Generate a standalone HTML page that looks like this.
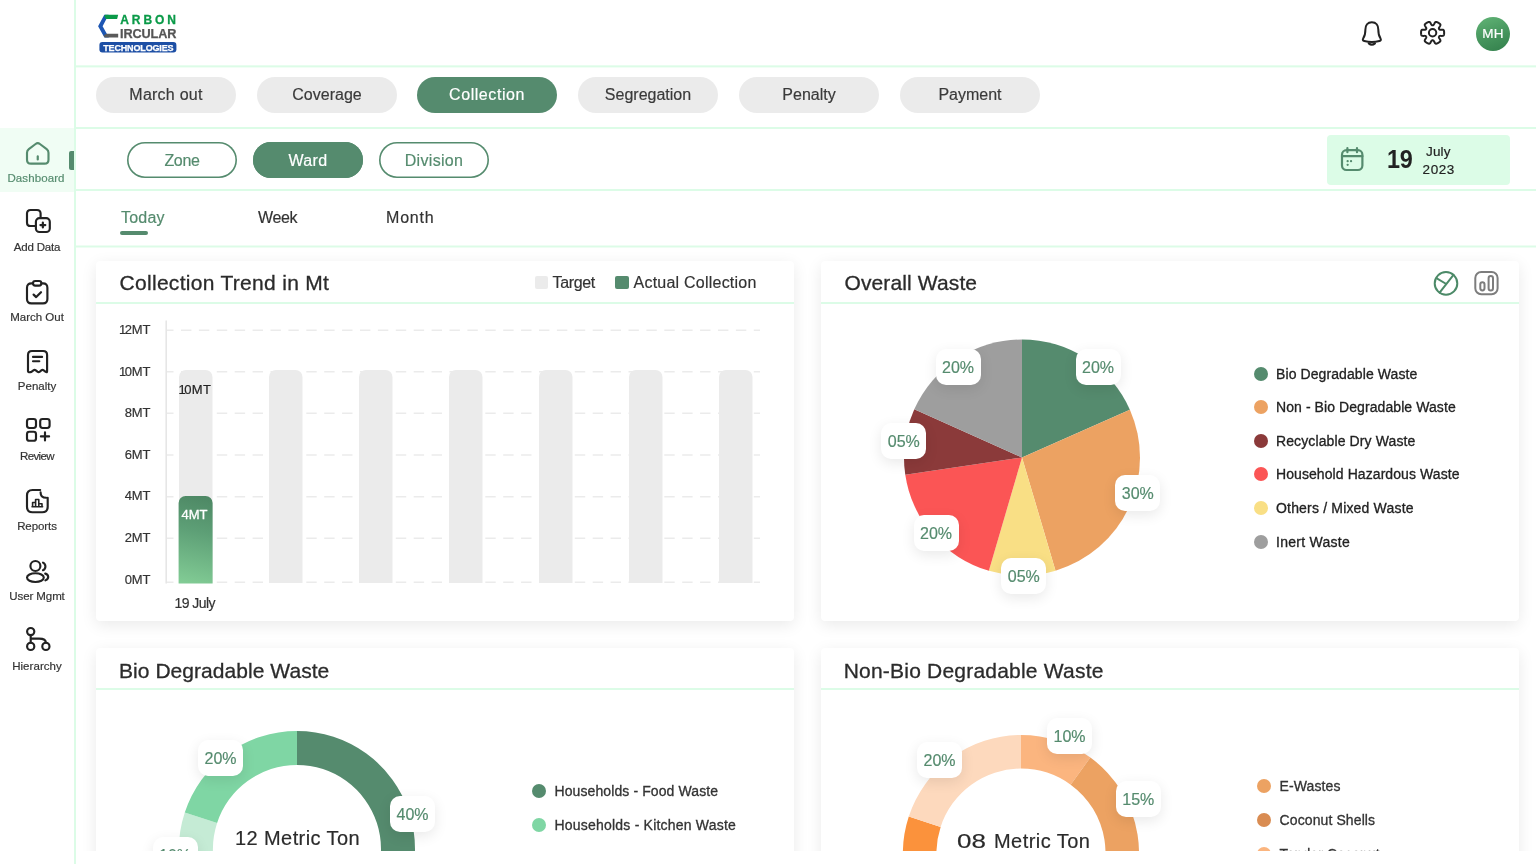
<!DOCTYPE html>
<html lang="en">
<head>
<meta charset="utf-8">
<title>Carbon Circular Technologies - Dashboard</title>
<style>
*{box-sizing:border-box;margin:0;padding:0}
html,body{width:1536px;height:864px;overflow:hidden;background:#fff}
body{font-family:"Liberation Sans",sans-serif;color:#2b2b2b;position:relative;-webkit-text-stroke-width:.18px}
.abs{position:absolute}
.t{position:absolute;white-space:nowrap;line-height:1}
/* sidebar */
#side{position:absolute;left:0;top:0;width:76px;height:864px;border-right:2px solid #dcfce7;background:#fff}
#sideactive{position:absolute;left:0;top:128px;width:74px;height:64px;background:#f0fdf4}
#sideind{position:absolute;left:69px;top:151px;width:5px;height:19px;background:#558b6e;border-radius:2px 0 0 2px}
.nl{position:absolute;left:0;width:74px;text-align:center;font-size:11.5px;line-height:14px;color:#333;white-space:nowrap}
.ic{position:absolute;overflow:visible}
.ic *{fill:none;stroke:#222;stroke-width:2.15;stroke-linecap:round;stroke-linejoin:round}
.ic.g *{stroke:#558b6e}
/* horizontal lines */
.hl{position:absolute;left:76px;right:0;height:2px;background:#dcfce7}
/* pills */
.pill{position:absolute;top:77px;width:140px;height:36px;border-radius:18px;background:#ebebeb;color:#3a3a3a;font-size:16px;line-height:36px;text-align:center;white-space:nowrap}
.pill.on{background:#558b6e;color:#fff}
.sp{position:absolute;top:142px;width:110px;height:36px;border-radius:18px;box-shadow:inset 0 0 0 1.6px #558b6e;color:#558b6e;font-size:16px;line-height:38px;text-align:center;background:#fff;white-space:nowrap}
.sp.on{background:#558b6e;color:#fff}
.pt{position:absolute;top:208px;font-size:16px;line-height:20px;color:#333;white-space:nowrap}
/* content */
#content{position:absolute;left:76px;top:247px;width:1460px;height:604px;overflow:hidden}
#inner{position:absolute;left:-76px;top:-247px;width:1536px;height:1200px}
.card{position:absolute;width:698px;height:360px;background:#fff;box-shadow:0 4px 16px rgba(0,0,0,.085);border-radius:4px}
.h2{position:absolute;-webkit-text-stroke-width:.3px;font-weight:400;font-size:21px;line-height:24px;color:#2b2b2b;white-space:nowrap}
.ln{position:absolute;height:2px;background:#dcfce7;width:698px}
.yl{position:absolute;width:60px;text-align:right;font-size:13px;line-height:16px;color:#333;white-space:nowrap;letter-spacing:-.1px}
.n1{letter-spacing:-1.5px}
.lg{position:absolute;font-size:14px;line-height:16px;color:#222;white-space:nowrap;-webkit-text-stroke:.3px #222}
.dot{position:absolute;width:14px;height:14px;border-radius:50%}
.pl{position:absolute;width:45px;height:36px;margin-left:-1px;border-radius:10px;background:#fff;box-shadow:0 4px 14px rgba(0,0,0,.09);color:#558b6e;font-size:16px;line-height:37px;text-align:center;white-space:nowrap}
</style>
</head>
<body>
<div id="side">
  <div id="sideactive"></div>
  <div id="sideind"></div>

  <!-- Dashboard -->
  <svg class="ic g" style="left:25.9px;top:142px" width="23.5" height="22.7" viewBox="0 0 23.5 22.7">
    <path d="M9.600 2 2.800 7.100Q1 8.450 1 10.700v7q0 4 4 4h13.500q4 0 4-4v-7q0-2.250-1.800-3.600L13.900 2q-2.150-1.600-4.300 0Z"/>
    <path d="M11.75 14.4v3" style="stroke-width:2.2"/>
  </svg>
  <div class="nl" id="n1" style="letter-spacing:0.11px;top:171px;color:#558b6e;padding-right:2px">Dashboard</div>

  <!-- Add Data -->
  <svg class="ic" style="left:25.9px;top:209.2px" width="24.8" height="24" viewBox="0 0 24.8 24">
    <path d="M8.9 17H4.6Q1 17 1 13.4V4.6Q1 1 4.6 1h6.4q3.6 0 3.6 3.6v3.5"/>
    <rect x="9.9" y="9.1" width="13.9" height="13.9" rx="3.6"/>
    <path d="M16.85 13.6v4.9M14.4 16.05h4.9" style="stroke-width:2.2"/>
  </svg>
  <div class="nl" id="n2" style="letter-spacing:-0.19px;top:240px">Add Data</div>

  <!-- March Out -->
  <svg class="ic" style="left:25.9px;top:280px" width="22.4" height="24.4" viewBox="0 0 22.4 24.4">
    <path d="M7 3.4H5.4Q1 3.4 1 7.8v11.2q0 4.4 4.4 4.4H17q4.4 0 4.400-4.400V7.800q0-4.400-4.400-4.400h-1.600"/>
    <rect x="7" y="1" width="8.4" height="4.6" rx="2.3"/>
    <path d="M7.6 14.6l2.600 2.500 4.800-4.900" style="stroke-width:2.2"/>
  </svg>
  <div class="nl" id="n3" style="top:309.500px">March Out</div>

  <!-- Penalty -->
  <svg class="ic" style="left:27px;top:350px" width="21.1" height="23.8" viewBox="0 0 21.1 23.8">
    <path d="M1 21.200V5Q1 1 5 1h11.100q4 0 4 4v16.200q0 1.600-1.400.7l-2-1.500q-1.200-.9-2.400 0l-1.500 1.300q-1.200.9-2.400 0l-1.600-1.300q-1.200-.9-2.400 0l-2 1.500Q1 22.800 1 21.200Z"/>
    <path d="M6 6.900h9.100M6 11.300h6.300"/>
  </svg>
  <div class="nl" id="n4" style="top:379px">Penalty</div>

  <!-- Review -->
  <svg class="ic" style="left:25.6px;top:417.6px" width="24.6" height="23.8" viewBox="0 0 24.6 23.8">
    <rect x="1" y="1" width="9" height="9" rx="2.400"/>
    <rect x="14.200" y="1" width="9.400" height="9" rx="2.400"/>
    <rect x="1" y="13.800" width="9" height="9" rx="2.400"/>
    <path d="M19 14.300v8.200M14.900 18.400h8.200"/>
  </svg>
  <div class="nl" id="n5" style="letter-spacing:-0.62px;top:449px">Review</div>

  <!-- Reports -->
  <svg class="ic" style="left:25.9px;top:489.200px" width="22.700" height="24.300" viewBox="0 0 22.700 24.300">
    <path d="M14.200 1H6.500Q1 1 1 6.500v11.300q0 5.500 5.500 5.500h9.700q5.500 0 5.500-5.500V8.800"/>
    <path d="M14.600 3.400q0 5.400 5.600 5.400"/>
    <path d="M6 17.700h10.600M6.600 17.700v-4.200h3v4.200M9.600 17.700v-7.200h3.200v7.200M12.800 17.700v-3h3.200v3" style="stroke-width:1.600"/>
  </svg>
  <div class="nl" id="n6" style="letter-spacing:-0.08px;top:518.500px">Reports</div>

  <!-- User Mgmt -->
  <svg class="ic" style="left:25.900px;top:559.600px" width="23.500" height="23" viewBox="0 0 23.500 23">
    <circle cx="9.400" cy="6" r="5"/>
    <ellipse cx="9.400" cy="17.600" rx="8.400" ry="4.400"/>
    <path d="M17 2.600a4.200 4.200 0 0 1 0 7.600"/>
    <path d="M19.200 13.600c3.400 1 4.500 4.800.2 6.800"/>
  </svg>
  <div class="nl" id="n7" style="letter-spacing:-0.08px;top:588.500px">User Mgmt</div>

  <!-- Hierarchy -->
  <svg class="ic" style="left:25.900px;top:627.300px" width="24.600" height="23.700" viewBox="0 0 24.600 23.700">
    <circle cx="4.700" cy="4.600" r="3.600"/>
    <circle cx="4.700" cy="19.400" r="3.600"/>
    <circle cx="19.900" cy="19.400" r="3.600"/>
    <path d="M4.700 8.200v7.600M4.700 11.600h8.400q6.800 0 6.800 4.200"/>
  </svg>
  <div class="nl" id="n8" style="letter-spacing:0.06px;top:658.500px">Hierarchy</div>
</div>
<!-- logo -->
<svg class="abs" style="left:98px;top:14px" width="80" height="40" viewBox="98 14 80 40">
  <path fill="#1d56b3" d="M104.300 14.800h4.300l-6 11.400 6.300 11.400h-4.500l-6.300-11.400Z"/>
  <path fill="#0a9a48" d="M104.900 14.800h13.300l-1.100 4.300h-11.100l-1.600-2.600Z"/>
  <path fill="#5a5a5a" d="M106.300 33.700h11.900v3.900h-13.400l-1.200-2.100Z"/>
  <rect x="99.400" y="42" width="77" height="10.600" rx="3" fill="#1d4fa5"/>
</svg>
<div class="t" id="lg1" style="left:120.200px;top:14.300px;font-size:12px;font-weight:700;color:#0a9a48;letter-spacing:2.950px;-webkit-text-stroke:.3px #0a9a48">ARBON</div>
<div class="t" id="lg2" style="left:120px;top:28px;font-size:12.700px;font-weight:700;color:#555;letter-spacing:-.1px;-webkit-text-stroke:.25px #555">IRCULAR</div>
<div class="t" id="lg3" style="left:103.200px;top:43.500px;font-size:9px;font-weight:700;color:#fff;letter-spacing:-.15px;-webkit-text-stroke:.25px #fff">TECHNOLOGIES</div>

<!-- bell -->
<svg class="abs" style="left:1360px;top:20px;overflow:visible" width="24" height="27" viewBox="1360 20 24 27" fill="none" stroke="#222" stroke-width="2" stroke-linecap="round" stroke-linejoin="round">
  <path d="M1371.850 22.300C1367.500 22.300 1365.400 25.500 1365.400 29.500C1365.400 33.500 1365.200 35.500 1363.300 38.200C1362.300 39.700 1362.900 40.600 1364.300 40.950C1369 42.200 1374.700 42.200 1379.400 40.950C1380.800 40.600 1381.400 39.700 1380.400 38.200C1378.500 35.500 1378.300 33.500 1378.300 29.500C1378.300 25.500 1376.200 22.300 1371.850 22.300Z"/>
  <path d="M1368.800 43.400q3.050 2.600 6.100 0" stroke-width="2.200"/>
</svg>
<!-- gear -->
<svg class="abs" style="left:1420px;top:21.200px;overflow:visible" width="25.200" height="23.600" viewBox="0 0 25.200 23.600" fill="none" stroke="#222" stroke-width="2" stroke-linejoin="round">
  <path d="M24.15 11.80L24.15 12.00L24.14 12.20L24.13 12.40L24.12 12.61L24.10 12.81L24.08 13.01L24.06 13.21L24.03 13.41L23.99 13.60L23.94 13.80L23.88 13.99L23.81 14.18L23.70 14.36L23.56 14.53L23.34 14.68L23.04 14.79L22.63 14.87L22.13 14.90L21.58 14.89L21.05 14.88L20.59 14.87L20.22 14.88L19.94 14.91L19.72 14.97L19.56 15.05L19.44 15.13L19.33 15.23L19.24 15.33L19.16 15.44L19.10 15.55L19.03 15.67L18.98 15.79L18.94 15.91L18.90 16.05L18.89 16.21L18.91 16.38L18.96 16.60L19.07 16.86L19.25 17.18L19.49 17.58L19.77 18.03L20.05 18.51L20.27 18.96L20.41 19.35L20.46 19.66L20.44 19.92L20.37 20.13L20.27 20.32L20.14 20.48L20.00 20.62L19.86 20.76L19.70 20.89L19.55 21.02L19.39 21.14L19.22 21.26L19.06 21.37L18.89 21.49L18.72 21.59L18.55 21.70L18.38 21.80L18.20 21.90L18.02 22.00L17.84 22.09L17.66 22.18L17.48 22.27L17.30 22.35L17.11 22.43L16.92 22.50L16.73 22.56L16.54 22.62L16.34 22.67L16.14 22.70L15.93 22.70L15.71 22.65L15.48 22.54L15.23 22.34L14.96 22.02L14.68 21.60L14.41 21.13L14.16 20.65L13.94 20.25L13.74 19.94L13.57 19.71L13.42 19.56L13.27 19.45L13.13 19.39L13.00 19.34L12.86 19.32L12.73 19.30L12.60 19.30L12.47 19.30L12.34 19.32L12.20 19.34L12.07 19.39L11.93 19.45L11.78 19.56L11.63 19.71L11.46 19.94L11.26 20.25L11.04 20.65L10.79 21.13L10.52 21.60L10.24 22.02L9.97 22.34L9.72 22.54L9.49 22.65L9.27 22.70L9.06 22.70L8.86 22.67L8.66 22.62L8.47 22.56L8.28 22.50L8.09 22.43L7.90 22.35L7.72 22.27L7.54 22.18L7.36 22.09L7.18 22.00L7.00 21.90L6.83 21.80L6.65 21.70L6.48 21.59L6.31 21.49L6.14 21.37L5.98 21.26L5.81 21.14L5.65 21.02L5.50 20.89L5.34 20.76L5.20 20.62L5.06 20.48L4.93 20.32L4.83 20.13L4.76 19.92L4.74 19.66L4.79 19.35L4.93 18.96L5.15 18.51L5.43 18.03L5.71 17.58L5.95 17.18L6.13 16.86L6.24 16.60L6.29 16.38L6.31 16.21L6.30 16.05L6.26 15.91L6.22 15.79L6.17 15.67L6.10 15.55L6.04 15.44L5.96 15.33L5.87 15.23L5.76 15.13L5.64 15.05L5.48 14.97L5.26 14.91L4.98 14.88L4.61 14.87L4.15 14.88L3.62 14.89L3.07 14.90L2.57 14.87L2.16 14.79L1.86 14.68L1.64 14.53L1.50 14.36L1.39 14.18L1.32 13.99L1.26 13.80L1.21 13.60L1.17 13.41L1.14 13.21L1.12 13.01L1.10 12.81L1.08 12.61L1.07 12.40L1.06 12.20L1.05 12.00L1.05 11.80L1.05 11.60L1.06 11.40L1.07 11.20L1.08 10.99L1.10 10.79L1.12 10.59L1.14 10.39L1.17 10.19L1.21 10.00L1.26 9.80L1.32 9.61L1.39 9.42L1.50 9.24L1.64 9.07L1.86 8.92L2.16 8.81L2.57 8.73L3.07 8.70L3.62 8.71L4.15 8.72L4.61 8.73L4.98 8.72L5.26 8.69L5.48 8.63L5.64 8.55L5.76 8.47L5.87 8.37L5.96 8.27L6.04 8.16L6.10 8.05L6.17 7.93L6.22 7.81L6.26 7.69L6.30 7.55L6.31 7.39L6.29 7.22L6.24 7.00L6.13 6.74L5.95 6.42L5.71 6.02L5.43 5.57L5.15 5.09L4.93 4.64L4.79 4.25L4.74 3.94L4.76 3.68L4.83 3.47L4.93 3.28L5.06 3.12L5.20 2.98L5.34 2.84L5.50 2.71L5.65 2.58L5.81 2.46L5.98 2.34L6.14 2.23L6.31 2.11L6.48 2.01L6.65 1.90L6.82 1.80L7.00 1.70L7.18 1.60L7.36 1.51L7.54 1.42L7.72 1.33L7.90 1.25L8.09 1.17L8.28 1.10L8.47 1.04L8.66 0.98L8.86 0.93L9.06 0.90L9.27 0.90L9.49 0.95L9.72 1.06L9.97 1.26L10.24 1.58L10.52 2.00L10.79 2.47L11.04 2.95L11.26 3.35L11.46 3.66L11.63 3.89L11.78 4.04L11.93 4.15L12.07 4.21L12.20 4.26L12.34 4.28L12.47 4.30L12.60 4.30L12.73 4.30L12.86 4.28L13.00 4.26L13.13 4.21L13.27 4.15L13.42 4.04L13.57 3.89L13.74 3.66L13.94 3.35L14.16 2.95L14.41 2.47L14.68 2.00L14.96 1.58L15.23 1.26L15.48 1.06L15.71 0.95L15.93 0.90L16.14 0.90L16.34 0.93L16.54 0.98L16.73 1.04L16.92 1.10L17.11 1.17L17.30 1.25L17.48 1.33L17.66 1.42L17.84 1.51L18.02 1.60L18.20 1.70L18.38 1.80L18.55 1.90L18.72 2.01L18.89 2.11L19.06 2.23L19.22 2.34L19.39 2.46L19.55 2.58L19.70 2.71L19.86 2.84L20.00 2.98L20.14 3.12L20.27 3.28L20.37 3.47L20.44 3.68L20.46 3.94L20.41 4.25L20.27 4.64L20.05 5.09L19.77 5.57L19.49 6.02L19.25 6.42L19.07 6.74L18.96 7.00L18.91 7.22L18.89 7.39L18.90 7.55L18.94 7.69L18.98 7.81L19.03 7.93L19.10 8.05L19.16 8.16L19.24 8.27L19.33 8.37L19.44 8.47L19.56 8.55L19.72 8.63L19.94 8.69L20.22 8.72L20.59 8.73L21.05 8.72L21.58 8.71L22.13 8.70L22.63 8.73L23.04 8.81L23.34 8.92L23.56 9.07L23.70 9.24L23.81 9.42L23.88 9.61L23.94 9.80L23.99 10.00L24.03 10.19L24.06 10.39L24.08 10.59L24.10 10.79L24.12 10.99L24.13 11.20L24.14 11.40L24.15 11.60Z"/>
  <circle cx="12.600" cy="11.800" r="3.700"/>
</svg>
<!-- avatar -->
<div class="abs" style="left:1476px;top:16.800px;width:34px;height:34px;border-radius:50%;background:linear-gradient(160deg,#62b577 0%,#4a9a61 45%,#327f4b 100%);color:#fff;font-size:13.500px;line-height:34px;text-align:center;letter-spacing:.2px">MH</div>

<div class="hl" style="top:65px;height:3px;background:linear-gradient(#e8fdef 0 33.4%,#dcfce7 33.4% 66.7%,#f1fef5 66.7%)"></div>
<div class="hl" style="top:127px"></div>
<div class="hl" style="top:189px"></div>
<div class="hl" style="top:245px;height:3px;background:linear-gradient(#eefdf3 0 33.4%,#dcfce7 33.4% 66.7%,#eefdf3 66.7%)"></div>

<div class="pill" style="left:96px"><span id="p1" style="letter-spacing:0.24px">March out</span></div>
<div class="pill" style="left:257px"><span id="p2">Coverage</span></div>
<div class="pill on" style="left:417px"><span id="p3" style="letter-spacing:0.56px">Collection</span></div>
<div class="pill" style="left:578px"><span id="p4">Segregation</span></div>
<div class="pill" style="left:739px"><span id="p5">Penalty</span></div>
<div class="pill" style="left:900px"><span id="p6">Payment</span></div>

<div class="sp" style="left:127px"><span id="s1" style="letter-spacing:-0.33px">Zone</span></div>
<div class="sp on" style="left:253px"><span id="s2" style="letter-spacing:0.38px">Ward</span></div>
<div class="sp" style="left:379px"><span id="s3" style="letter-spacing:0.33px">Division</span></div>

<!-- date -->
<div class="abs" style="left:1327px;top:135px;width:183px;height:49.500px;border-radius:4px;background:#dcfce7"></div>
<svg class="abs" style="left:1341.200px;top:146.700px;overflow:visible" width="22.400" height="24" viewBox="0 0 22.400 24" fill="none" stroke="#558b6e" stroke-width="2.200" stroke-linecap="round" stroke-linejoin="round">
  <rect x="1" y="3.200" width="20.400" height="19.800" rx="4.500"/>
  <path d="M1 9.200h20.400M6.400 1v4.200M16 1v4.200"/>
  <path d="M6.600 14.200h.1M10 14.200h.1M6.600 17.800h.1" stroke-width="2.200"/>
</svg>
<div class="t" id="d19" style="letter-spacing:-0.40px;left:1387.300px;top:146.300px;font-size:26px;font-weight:700;color:#222;-webkit-text-stroke:0;transform:scaleX(.9);transform-origin:0 50%">19</div>
<div class="t" id="djul" style="letter-spacing:0.13px;left:1426px;top:145px;font-size:13.500px;color:#222">July</div>
<div class="t" id="d23" style="letter-spacing:0.55px;left:1422.600px;top:163.400px;font-size:13.500px;color:#222">2023</div>

<div class="pt" id="t1" style="letter-spacing:0.20px;left:121px;color:#558b6e">Today</div>
<div class="abs" style="left:120px;top:231px;width:28px;height:3.500px;border-radius:2px;background:#558b6e"></div>
<div class="pt" id="t2" style="letter-spacing:-0.40px;left:258px">Week</div>
<div class="pt" id="t3" style="letter-spacing:0.80px;left:386px">Month</div>
<div id="content"><div id="inner">
  <div class="card" style="left:96px;top:261px"></div>
  <div class="card" style="left:821px;top:261px"></div>
  <div class="card" style="left:96px;top:648px"></div>
  <div class="card" style="left:821px;top:648px"></div>
  <!-- card 1 -->
  <div class="h2" id="h1" style="letter-spacing:0.30px;left:119.500px;top:271px">Collection Trend in Mt</div>
  <div class="ln" style="left:96px;top:301.500px"></div>
  <div class="abs" style="left:534.500px;top:276px;width:13px;height:13px;border-radius:2px;background:#ebebeb"></div>
  <div class="t" id="lgT" style="letter-spacing:-0.36px;left:552.500px;top:275px;font-size:16px;color:#333">Target</div>
  <div class="abs" style="left:615px;top:276px;width:13.500px;height:13px;border-radius:2px;background:#558b6e"></div>
  <div class="t" id="lgA" style="letter-spacing:0.23px;left:633.500px;top:275px;font-size:16px;color:#333">Actual Collection</div>

  <svg class="abs" style="left:0;top:0" width="1536" height="900" viewBox="0 0 1536 900">
    <defs>
      <linearGradient id="gbar" gradientUnits="userSpaceOnUse" x1="207" y1="496" x2="186" y2="584">
        <stop offset="0" stop-color="#4d8764"/><stop offset=".4" stop-color="#5d9f76"/><stop offset="1" stop-color="#82cc95"/>
      </linearGradient>
    </defs>
    <line x1="166.200" x2="166.200" y1="320.500" y2="583.500" stroke="#e6e6e6" stroke-width="1.600"/>
    <g stroke="#ebebeb" stroke-width="1.600" stroke-dasharray="10.400 7.500" stroke-dashoffset="3.900">
<line x1="167" x2="760" y1="330.3" y2="330.3"/>
<line x1="167" x2="760" y1="371.8" y2="371.8"/>
<line x1="167" x2="760" y1="413.2" y2="413.2"/>
<line x1="167" x2="760" y1="455" y2="455"/>
<line x1="167" x2="760" y1="496.7" y2="496.7"/>
<line x1="167" x2="760" y1="538.3" y2="538.3"/>
<line x1="167" x2="760" y1="582.2" y2="582.2"/>
    </g>
    <g fill="#ebebeb">
<path d="M179 583V377a7 7 0 0 1 7-7h19.5a7 7 0 0 1 7 7V583Z"/>
<path d="M269 583V377a7 7 0 0 1 7-7h19.5a7 7 0 0 1 7 7V583Z"/>
<path d="M359 583V377a7 7 0 0 1 7-7h19.5a7 7 0 0 1 7 7V583Z"/>
<path d="M449 583V377a7 7 0 0 1 7-7h19.5a7 7 0 0 1 7 7V583Z"/>
<path d="M539 583V377a7 7 0 0 1 7-7h19.5a7 7 0 0 1 7 7V583Z"/>
<path d="M629 583V377a7 7 0 0 1 7-7h19.5a7 7 0 0 1 7 7V583Z"/>
<path d="M719 583V377a7 7 0 0 1 7-7h19.5a7 7 0 0 1 7 7V583Z"/>
    </g>
    <path fill="url(#gbar)" d="M178.600 583.500V503a7 7 0 0 1 7-7h20a7 7 0 0 1 7 7V583.500Z"/>

    <!-- pie -->
    <path fill="#558b6e" d="M1022 457.500L1022.000 339.500A118 118 0 0 1 1129.880 409.690Z"/>
    <path fill="#eca262" d="M1022 457.500L1129.880 409.690A118 118 0 0 1 1055.510 570.640Z"/>
    <path fill="#f9df85" d="M1022 457.500L1055.510 570.640A118 118 0 0 1 988.880 570.760Z"/>
    <path fill="#fb5555" d="M1022 457.500L988.880 570.760A118 118 0 0 1 905.270 474.740Z"/>
    <path fill="#8b3a3a" d="M1022 457.500L905.270 474.740A118 118 0 0 1 914.290 409.320Z"/>
    <path fill="#9e9e9e" d="M1022 457.500L914.290 409.320A118 118 0 0 1 1022.000 339.500Z"/>
  </svg>

  <div class="yl" style="left:90.400px;top:322px"><span class="n1">1</span>2MT</div>
  <div class="yl" style="left:90.400px;top:363.500px"><span class="n1">1</span>0MT</div>
  <div class="yl" style="left:90.400px;top:405px">8MT</div>
  <div class="yl" style="left:90.400px;top:446.500px">6MT</div>
  <div class="yl" style="left:90.400px;top:488px">4MT</div>
  <div class="yl" style="left:90.400px;top:529.500px">2MT</div>
  <div class="yl" style="left:90.400px;top:571.500px">0MT</div>
  <div class="t" id="b10" style="letter-spacing:0.25px;left:178.600px;top:382.500px;font-size:13px;color:#222;-webkit-text-stroke:.2px #222"><span class="n1">1</span>0MT</div>
  <div class="t" id="b4" style="letter-spacing:0.00px;left:181.500px;top:508px;font-size:13px;color:#fff;-webkit-text-stroke:.3px #fff">4MT</div>
  <div class="t" id="xl" style="letter-spacing:-0.57px;left:174.500px;top:596px;font-size:14px;color:#333">19 July</div>

  <!-- card 2 -->
  <div class="h2" id="h2" style="letter-spacing:0.12px;left:844.500px;top:271px">Overall Waste</div>
  <div class="ln" style="left:821px;top:301.500px"></div>
  <svg class="abs" style="left:1433px;top:270px;overflow:visible" width="68" height="27" viewBox="1433 270 68 27" fill="none" stroke-width="2" stroke-linecap="round" stroke-linejoin="round">
    <g stroke="#4c8a68">
      <circle cx="1446" cy="283.400" r="11.300"/>
      <path d="M1439.600 292.600 1453.500 274.800M1446.300 284 1436.400 278.200"/>
    </g>
    <g stroke="#7d7d7d">
      <rect x="1475.300" y="272" width="22.300" height="22.300" rx="6"/>
      <rect x="1480.300" y="282.200" width="4.200" height="8.200" rx="2.100"/>
      <rect x="1488.600" y="276" width="4.400" height="14.400" rx="2.200"/>
    </g>
  </svg>

  <div class="pl" style="left:1076.500px;top:349px">20%</div>
  <div class="pl" style="left:936.500px;top:349px">20%</div>
  <div class="pl" style="left:882.300px;top:423px">05%</div>
  <div class="pl" style="left:1116.300px;top:475px">30%</div>
  <div class="pl" style="left:914.500px;top:514.500px">20%</div>
  <div class="pl" style="left:1002.300px;top:557.500px">05%</div>

  <div class="dot" style="left:1253.500px;top:366.500px;background:#558b6e"></div>
  <div class="dot" style="left:1253.500px;top:400.200px;background:#eca262"></div>
  <div class="dot" style="left:1253.500px;top:433.800px;background:#8b3a3a"></div>
  <div class="dot" style="left:1253.500px;top:467.400px;background:#fb5555"></div>
  <div class="dot" style="left:1253.500px;top:501.300px;background:#f9df85"></div>
  <div class="dot" style="left:1253.500px;top:535px;background:#9e9e9e"></div>
  <div class="lg" id="l1" style="letter-spacing:0.09px;left:1276px;top:365.500px">Bio Degradable Waste</div>
  <div class="lg" id="l2" style="letter-spacing:0.08px;left:1276px;top:399.200px">Non - Bio Degradable Waste</div>
  <div class="lg" id="l3" style="letter-spacing:0.11px;left:1276px;top:432.800px">Recyclable Dry Waste</div>
  <div class="lg" id="l4" style="letter-spacing:0.08px;left:1276px;top:466.400px">Household Hazardous Waste</div>
  <div class="lg" id="l5" style="letter-spacing:0.18px;left:1276px;top:500.300px">Others / Mixed Waste</div>
  <div class="lg" id="l6" style="letter-spacing:0.27px;left:1276px;top:534px">Inert Waste</div>

  <!-- card 3 -->
  <div class="h2" id="h3" style="letter-spacing:0.05px;left:119px;top:659px">Bio Degradable Waste</div>
  <div class="ln" style="left:96px;top:688px"></div>
  <svg class="abs" style="left:0;top:0" width="1536" height="900" viewBox="0 0 1536 900">
    <path fill="#558b6e" d="M297.000 731.000A118 118 0 0 1 366.360 944.460L346.370 916.960A84 84 0 0 0 297.000 765.000Z"/>
    <path fill="#c5ebd5" d="M184.780 885.460A118 118 0 0 1 184.780 812.540L217.110 823.040A84 84 0 0 0 217.110 874.960Z"/>
    <path fill="#7fd6a4" d="M184.780 812.540A118 118 0 0 1 297.000 731.000L297.000 765.000A84 84 0 0 0 217.110 823.040Z"/>
    <path fill="#fbb57f" d="M1021.000 735.000A118 118 0 0 1 1090.360 757.540L1070.670 784.640A84.500 84.500 0 0 0 1021.000 768.500Z"/>
    <path fill="#eca262" d="M1090.360 757.540A118 118 0 0 1 1116.460 922.360L1089.360 902.670A84.500 84.500 0 0 0 1070.670 784.640Z"/>
    <path fill="#fb923c" d="M908.780 889.460A118 118 0 0 1 908.780 816.540L940.640 826.890A84.500 84.500 0 0 0 940.640 879.110Z"/>
    <path fill="#fdd9bd" d="M908.780 816.540A118 118 0 0 1 1021.000 735.000L1021.000 768.500A84.500 84.500 0 0 0 940.640 826.890Z"/>
  </svg>
  <div class="pl" style="left:199px;top:739.800px">20%</div>
  <div class="pl" style="left:391px;top:796.300px">40%</div>
  <div class="pl" style="left:153.500px;top:836.700px">10%</div>
  <div class="t" id="m12" style="letter-spacing:0.41px;left:235px;top:828px;font-size:20px;color:#2b2b2b">12 Metric Ton</div>
  <div class="dot" style="left:531.600px;top:783.700px;background:#558b6e"></div>
  <div class="dot" style="left:531.600px;top:817.600px;background:#7fd6a4"></div>
  <div class="lg" id="l7" style="letter-spacing:0.10px;color:#333;-webkit-text-stroke-color:#333;left:554.500px;top:782.700px">Households - Food Waste</div>
  <div class="lg" id="l8" style="letter-spacing:0.21px;color:#333;-webkit-text-stroke-color:#333;left:554.500px;top:816.600px">Households - Kitchen Waste</div>

  <!-- card 4 -->
  <div class="h2" id="h4" style="letter-spacing:0.21px;left:843.700px;top:659px">Non-Bio Degradable Waste</div>
  <div class="ln" style="left:821px;top:688px"></div>
  <div class="pl" style="left:1048px;top:718.300px">10%</div>
  <div class="pl" style="left:918px;top:742.200px">20%</div>
  <div class="pl" style="left:1116.800px;top:781.300px">15%</div>
  <div class="t" id="m08" style="letter-spacing:0.45px;left:956.500px;top:831px;font-size:20px;color:#2b2b2b"><span style="display:inline-block;transform:scaleX(1.3);transform-origin:0 50%;margin-right:9.200px;letter-spacing:0">08</span> Metric Ton</div>
  <div class="dot" style="left:1257px;top:779.400px;background:#eca262"></div>
  <div class="dot" style="left:1257px;top:813.200px;background:#d98c52"></div>
  <div class="dot" style="left:1257px;top:847.200px;background:#fbb57f"></div>
  <div class="lg" id="l9" style="letter-spacing:0.09px;color:#333;-webkit-text-stroke-color:#333;left:1279.600px;top:778.400px">E-Wastes</div>
  <div class="lg" id="l10" style="letter-spacing:0.10px;color:#333;-webkit-text-stroke-color:#333;left:1279.600px;top:812.200px">Coconut Shells</div>
  <div class="lg" id="l11" style="letter-spacing:0.10px;color:#333;-webkit-text-stroke-color:#333;left:1279.600px;top:846.200px">Tender Coconut</div>
</div></div>
</body>
</html>
